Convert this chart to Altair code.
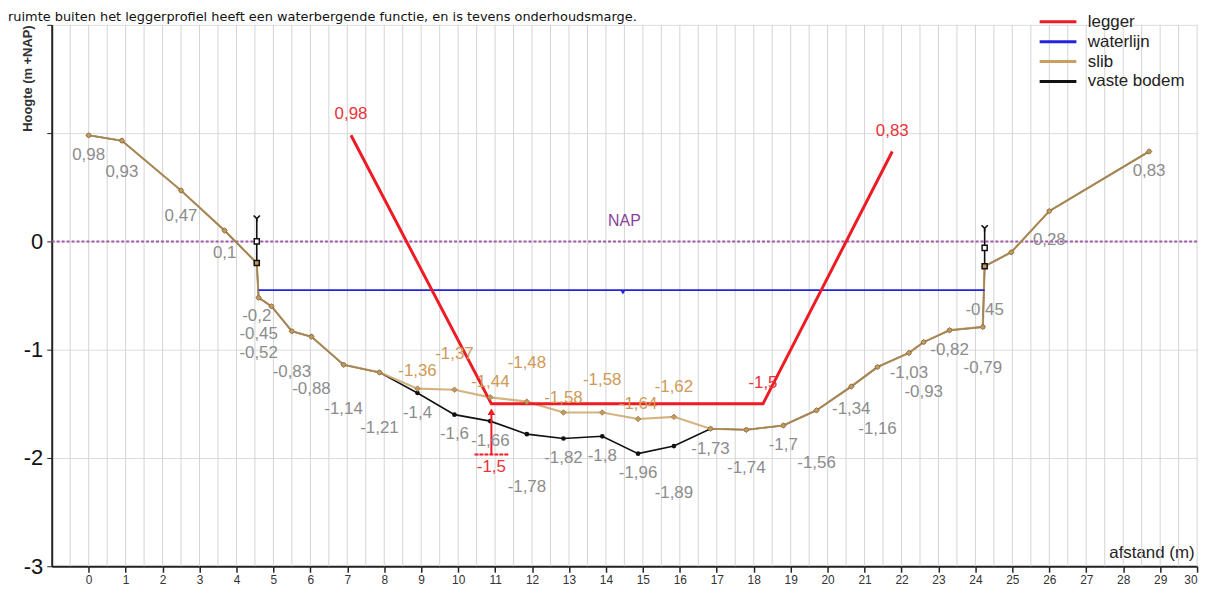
import altair as alt
import pandas as pd
import numpy as np

# ---------------- data ----------------
profile_x = [0, 0.9, 2.5, 3.68, 4.55, 4.6, 4.95, 5.5, 6.03, 6.9, 7.87,
             8.9, 9.9, 10.87, 11.86, 12.85, 13.9, 14.87, 15.84,
             16.83, 17.8, 18.8, 19.7, 20.64, 21.35, 22.2, 22.6, 23.3,
             24.2, 24.25, 24.97, 26.0, 28.7]
bodem_y = [0.98, 0.93, 0.47, 0.1, -0.2, -0.52, -0.6, -0.83, -0.88, -1.14, -1.21,
           -1.4, -1.6, -1.66, -1.78, -1.82, -1.8, -1.96, -1.89,
           -1.73, -1.74, -1.7, -1.56, -1.34, -1.16, -1.03, -0.93, -0.82,
           -0.79, -0.23, -0.1, 0.28, 0.83]
slib_y = [0.98, 0.93, 0.47, 0.1, -0.2, -0.52, -0.6, -0.83, -0.88, -1.14, -1.21,
          -1.36, -1.37, -1.44, -1.48, -1.58, -1.58, -1.64, -1.62,
          -1.73, -1.74, -1.7, -1.56, -1.34, -1.16, -1.03, -0.93, -0.82,
          -0.79, -0.23, -0.1, 0.28, 0.83]
unlabeled = [6, 29, 30]

legger_x = [7.1, 10.9, 18.25, 21.75]
legger_y = [0.98, -1.5, -1.5, 0.83]
legger_labelled = [0, 2, 3]
legger_depth_point = 1

waterlijn_x = [4.6, 24.25]
waterlijn_level = -0.45
waterlijn_marker_x = 14.46

nap_level = 0.0
nap_x = 14.5

struct_x = [4.55, 24.25]
struct_top = [0.21, 0.12]
struct_mid = [0.0, -0.06]
struct_bot = [-0.2, -0.23]

x_ticks = list(range(0, 31))
y_ticks = [-3, -2, -1, 0, 1, 2]
grid_x = list(np.arange(-0.5, 30.01, 0.5))

series_names = ["legger", "waterlijn", "slib", "vaste bodem"]
series_colors = ["#ee1b24", "#2323e0", "#c9a063", "#111111"]

title_text = ("ruimte buiten het leggerprofiel heeft een waterbergende functie, "
              "en is tevens onderhoudsmarge.")

# ---------------- layout helpers ----------------
W, H = 1153, 545
XMIN, XMAX, YMIN, YMAX = -1, 30, -3, 2
FONT = "Liberation Sans"
FS = 17

def px(x):
    return (x - XMIN) / (XMAX - XMIN) * W

def py(y):
    return (YMAX - y) / (YMAX - YMIN) * H

def to_y(p):
    return YMAX - p / H * (YMAX - YMIN)

def fmt(v):
    return f"{v:g}".replace(".", ",")

CW = {**{d: 0.556 for d in "0123456789"}, ",": 0.278, "-": 0.333}
TH = 0.98 * FS

def tw(s):
    return sum(CW.get(c, 0.556) for c in s) * FS

def rect(cx, cy, s):
    w = tw(s) + 2
    return (cx - w / 2, cy - TH / 2, cx + w / 2, cy + TH / 2)

def overlap(a, b):
    return not (a[2] <= b[0] or b[2] <= a[0] or a[3] <= b[1] or b[3] <= a[1])

segs = []
for ys in (slib_y, bodem_y):
    for i in range(len(profile_x) - 1):
        segs.append((px(profile_x[i]), py(ys[i]), px(profile_x[i + 1]), py(ys[i + 1])))
segs.append((px(waterlijn_x[0]), py(waterlijn_level), px(waterlijn_x[1]), py(waterlijn_level)))
for sx, st, sb in zip(struct_x, struct_top, struct_bot):
    segs.append((px(sx), py(st), px(sx), py(sb)))

def seg_hit(b):
    for (x0, y0, x1, y1) in segs:
        if max(x0, x1) < b[0] or min(x0, x1) > b[2] or max(y0, y1) < b[1] or min(y0, y1) > b[3]:
            continue
        n = max(2, int(max(abs(x1 - x0), abs(y1 - y0)) / 1.5))
        for k in range(n + 1):
            t = k / n
            X = x0 + (x1 - x0) * t
            Y = y0 + (y1 - y0) * t
            if b[0] <= X <= b[2] and b[1] <= Y <= b[3]:
                return True
    return False

placed = []

def place(xv, yv, s, direction, start):
    cx, cy0 = px(xv), py(yv)
    fallback = None
    chosen = None
    for off in range(start, start + 70, 3):
        cy = cy0 + direction * off
        b = rect(cx, cy, s)
        if any(overlap(b, p) for p in placed):
            continue
        if fallback is None:
            fallback = (cy, b)
        if not seg_hit(b):
            chosen = (cy, b)
            break
    if chosen is None:
        chosen = fallback if fallback else (cy0 + direction * start, rect(cx, cy0 + direction * start, s))
    placed.append(chosen[1])
    return to_y(chosen[0])

# ---------------- labels ----------------
rows = []
# red legger labels (above the points)
for i in legger_labelled:
    s = fmt(legger_y[i])
    cy = py(legger_y[i]) - 21
    placed.append(rect(px(legger_x[i]), cy, s))
    rows.append({"x": legger_x[i], "y": to_y(cy), "text": s, "kind": "red"})

# depth marker at the left bottom corner of the legger profile
dx_, dyv = legger_x[legger_depth_point], legger_y[legger_depth_point]
tri_y = to_y(py(dyv) + 8)
bar_y = to_y(py(dyv) + 51)
txt_cy = py(dyv) + 64
placed.append(rect(px(dx_), txt_cy, fmt(dyv)))
rows.append({"x": dx_, "y": to_y(txt_cy), "text": fmt(dyv), "kind": "red"})
half_bar = 17 / W * (XMAX - XMIN)
marker_df = pd.DataFrame({"x": [dx_], "x0": [dx_ - half_bar], "x1": [dx_ + half_bar],
                          "ytri": [tri_y], "ybar": [bar_y]})

# tan slib labels (above), where slib differs from the bottom
for i in range(len(profile_x)):
    if abs(slib_y[i] - bodem_y[i]) > 1e-9:
        s = fmt(slib_y[i])
        rows.append({"x": profile_x[i], "y": place(profile_x[i], slib_y[i], s, -1, 15),
                     "text": s, "kind": "tan"})

# grey labels (below) for the bottom profile and the waterline ends
grey_pts = [(profile_x[i], bodem_y[i]) for i in range(len(profile_x)) if i not in unlabeled]
grey_pts += [(wx, waterlijn_level) for wx in waterlijn_x]
grey_pts.sort(key=lambda p: (p[0], -p[1]))
for (xv, yv) in grey_pts:
    s = fmt(yv)
    rows.append({"x": xv, "y": place(xv, yv, s, 1, 20), "text": s, "kind": "grey"})

labels = pd.DataFrame(rows)
nap_df = pd.DataFrame({"x": [nap_x], "y": [to_y(py(nap_level) - 21)], "text": ["NAP"]})

# ---------------- data frames ----------------
prof = pd.DataFrame({"x": profile_x, "bodem": bodem_y, "slib": slib_y,
                     "i": list(range(len(profile_x)))})
prof["s_slib"] = "slib"
prof["s_bodem"] = "vaste bodem"
legger_df = pd.DataFrame({"x": legger_x, "y": legger_y, "i": list(range(4)), "serie": "legger"})
water_df = pd.DataFrame({"x": waterlijn_x, "y": [waterlijn_level] * 2, "i": [0, 1], "serie": "waterlijn"})
water_marker = pd.DataFrame({"x": [waterlijn_marker_x], "y": [waterlijn_level - 0.02]})
struct_df = pd.DataFrame({"x": struct_x, "top": struct_top, "mid": struct_mid, "bot": struct_bot})
grid_df = pd.DataFrame({"x": grid_x})
nap_line = pd.DataFrame({"y": [nap_level]})

# ---------------- encodings ----------------
xs = alt.Scale(domain=[XMIN, XMAX], nice=False, zero=False)
ys = alt.Scale(domain=[YMIN, YMAX], nice=False, zero=False)
x_axis = alt.Axis(values=x_ticks, labelFontSize=12, labelFont=FONT, labelColor="#333",
                  tickSize=6, tickColor="#222", tickWidth=1.5, domainColor="#222",
                  domainWidth=2, grid=False, title="afstand (m)", titleFontSize=17,
                  titleFont=FONT, titleFontWeight="normal", titleColor="#222",
                  titleAnchor="end", titleAlign="right", titleBaseline="bottom",
                  titleX=1150, titleY=-5, labelPadding=2)
y_axis = alt.Axis(values=y_ticks, labelExpr="datum.value > 0 ? '' : '' + datum.value",
                  labelFontSize=22, labelFont=FONT, labelColor="#111", tickSize=5,
                  tickColor="#222", domainColor="#222", domainWidth=2, grid=True,
                  gridColor="#dcdcdc", gridWidth=1, title="Hoogte (m +NAP)",
                  titleFontSize=13, titleFont=FONT, titleFontWeight="bold",
                  titleColor="#333", titleAngle=270, titleAlign="right",
                  titleBaseline="middle", titleX=-24, titleY=0, labelPadding=4)

def X(f):
    return alt.X(f"{f}:Q", scale=xs, axis=x_axis)

def Y(f):
    return alt.Y(f"{f}:Q", scale=ys, axis=y_axis)

legend = alt.Legend(title=None, orient="none", legendX=1002, legendY=-14,
                    symbolType="M-2,0L2,0", symbolSize=342, symbolStrokeWidth=3,
                    labelFontSize=17, labelFont=FONT, labelColor="#222", labelOffset=19,
                    rowPadding=1, padding=0, symbolOpacity=1)

def C(f):
    return alt.Color(f"{f}:N", scale=alt.Scale(domain=series_names, range=series_colors),
                     legend=legend)

# ---------------- layers ----------------
vgrid = alt.Chart(grid_df).mark_rule(color="#d4d4d4", strokeWidth=1).encode(x=X("x"))
nap = alt.Chart(nap_line).mark_rule(color="#a05aa8", strokeWidth=2, strokeDash=[3, 2]).encode(y=Y("y"))

bodem_line = alt.Chart(prof).mark_line(strokeWidth=1.6).encode(
    x=X("x"), y=Y("bodem"), order="i:Q", color=C("s_bodem"))
bodem_pts = alt.Chart(prof).mark_point(filled=True, size=22, color="#111", opacity=1).encode(
    x=X("x"), y=Y("bodem"))
slib_line = alt.Chart(prof).mark_line(strokeWidth=2.2, opacity=0.8).encode(
    x=X("x"), y=Y("slib"), order="i:Q", color=C("s_slib"))
slib_pts = alt.Chart(prof).mark_point(filled=True, shape="diamond", size=32, color="#c49a5c",
                                      stroke="#9c7a4a", strokeWidth=0.8, opacity=1).encode(
    x=X("x"), y=Y("slib"))

water_line = alt.Chart(water_df).mark_line(strokeWidth=2).encode(
    x=X("x"), y=Y("y"), order="i:Q", color=C("serie"))
water_tri = alt.Chart(water_marker).mark_point(shape="triangle-down", filled=True, size=28,
                                               color="#2323e0", opacity=1).encode(x=X("x"), y=Y("y"))

legger_line = alt.Chart(legger_df).mark_line(strokeWidth=3).encode(
    x=X("x"), y=Y("y"), order="i:Q", color=C("serie"))

depth_rule = alt.Chart(marker_df).mark_rule(color="#ee1b24", strokeWidth=2).encode(
    x=X("x"), y=Y("ytri"), y2="ybar:Q")
depth_bar = alt.Chart(marker_df).mark_rule(color="#ee1b24", strokeWidth=2, strokeDash=[4, 1]).encode(
    x=X("x0"), x2="x1:Q", y=Y("ybar"))
depth_tri = alt.Chart(marker_df).mark_point(shape="triangle-up", filled=True, size=60,
                                            color="#ee1b24", opacity=1).encode(x=X("x"), y=Y("ytri"))

struct_rule = alt.Chart(struct_df).mark_rule(color="#111", strokeWidth=1.6).encode(
    x=X("x"), y=Y("top"), y2="bot:Q")
struct_sq1 = alt.Chart(struct_df).mark_point(shape="square", filled=True, size=26, fill="white",
                                             stroke="#111", strokeWidth=1.5, opacity=1).encode(
    x=X("x"), y=Y("mid"))
struct_sq2 = alt.Chart(struct_df).mark_point(shape="square", filled=True, size=26, fill="#c49a5c",
                                             stroke="#111", strokeWidth=1.5, opacity=1).encode(
    x=X("x"), y=Y("bot"))
struct_y = alt.Chart(struct_df).mark_point(shape="M-1,-1L0,0L1,-1M0,0L0,1", filled=False, size=40,
                                           stroke="#111", strokeWidth=1.6, opacity=1).encode(
    x=X("x"), y=Y("top"))

def text_layer(kind, color):
    return alt.Chart(labels[labels["kind"] == kind]).mark_text(
        font=FONT, fontSize=FS, color=color, baseline="middle", align="center").encode(
        x=X("x"), y=Y("y"), text="text:N")

grey_txt = text_layer("grey", "#8c8c8c")
tan_txt = text_layer("tan", "#d09a55")
red_txt = text_layer("red", "#e8333a")
nap_txt = alt.Chart(nap_df).mark_text(font=FONT, fontSize=16, color="#8a3f98",
                                      baseline="middle", align="center").encode(
    x=X("x"), y=Y("y"), text="text:N")

title_layer = alt.Chart(pd.DataFrame({"t": [title_text]})).mark_text(
    font="DejaVu Sans", fontSize=13, color="#111", align="left", baseline="alphabetic").encode(
    x=alt.value(-44), y=alt.value(-4), text="t:N")

chart = alt.layer(
    vgrid, nap, bodem_line, slib_line, water_line, legger_line,
    bodem_pts, slib_pts, water_tri, struct_rule, struct_sq1, struct_sq2, struct_y,
    depth_rule, depth_bar, depth_tri,
    grey_txt, tan_txt, red_txt, nap_txt, title_layer
).properties(
    width=W, height=H,
    autosize=alt.AutoSizeParams(type="none"),
    padding={"left": 44, "top": 15, "right": 15, "bottom": 27},
).configure_view(stroke=None)

chart.save("out.html", embed_options={"renderer": "svg", "actions": False})
